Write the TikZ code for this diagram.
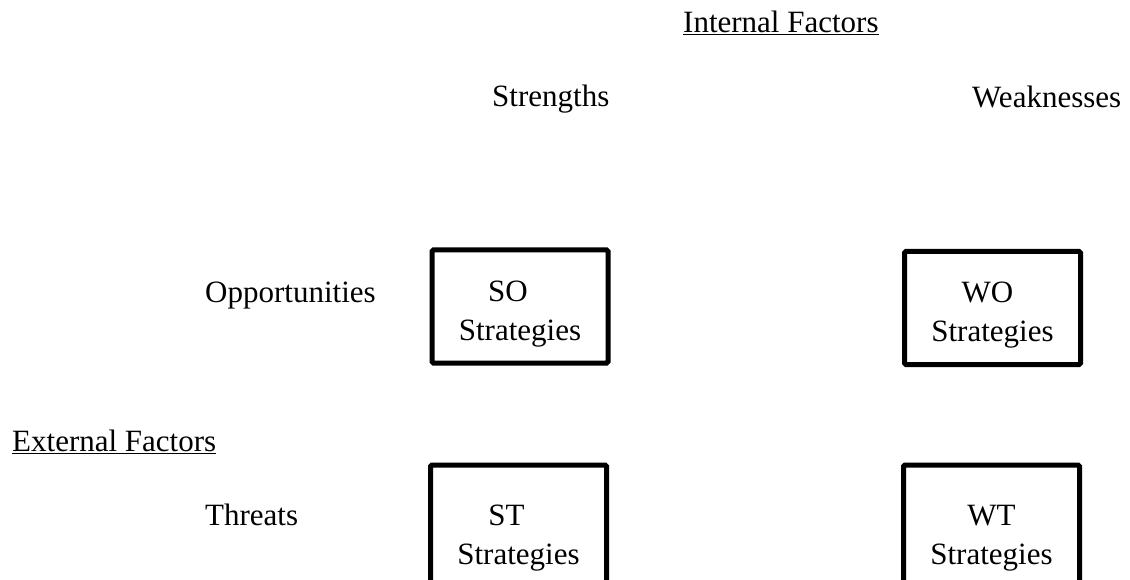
\documentclass[tikz,border=0pt]{standalone}
\usepackage{fontspec}
\setmainfont{Liberation Serif}
\usetikzlibrary{positioning}

\newcommand{\topstrut}{\rule{0pt}{35pt}}

\tikzset{
  factor/.style={anchor=base west, inner sep=0pt, font=\fontsize{31}{37}\selectfont},
  strat/.style={draw, line width=5pt, rounded corners=1.5pt, minimum width=176pt,
    minimum height=113pt, align=center, inner sep=0pt, font=\fontsize{31}{39}\selectfont},
}

\begin{document}
\begin{tikzpicture}[x=1pt,y=-1pt]
\useasboundingbox (0,0) rectangle (1130,580);
\clip (0,0) rectangle (1130,580);

% headings
\node[factor] (internal) at (683,33) {\underline{Internal Factors}};
\node[factor] (external) at (12,451) {\underline{External Factors}};

\node[factor] (strengths) at (492,107) {Strengths};
\node[factor] (weaknesses) at (972,108) {Weaknesses};
\node[factor] (opport) at (205,302) {Opportunities};
\node[factor] (threats) at (205,525) {Threats};

% strategy boxes
\node[strat] (so) at (520,306.5) {\topstrut SO\hspace*{24pt}\\Strategies};
\node[strat] (wo) at (992.5,308) {\topstrut WO\hspace*{10pt}\\Strategies};
\node[strat, minimum height=146pt] (st) at (518.5,538) {ST\hspace*{24pt}\\Strategies};
\node[strat, minimum height=146pt] (wt) at (991.5,538) {WT\\Strategies};
\end{tikzpicture}
\end{document}
